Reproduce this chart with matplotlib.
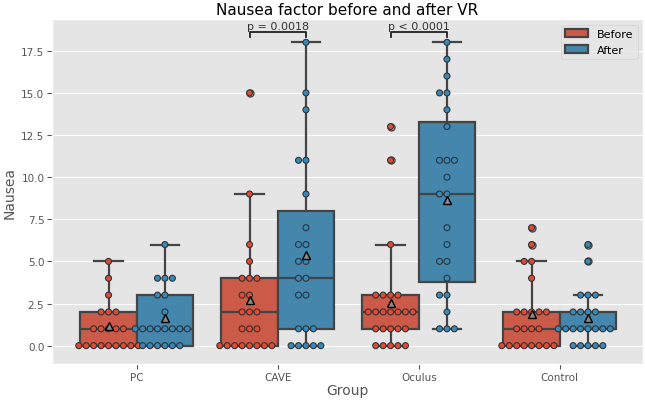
import matplotlib
matplotlib.use('Agg')
import matplotlib.pyplot as plt
import seaborn as sns
import pandas as pd

groups = ['PC', 'CAVE', 'Oculus', 'Control']
times = ['Before', 'After']

pc_before = [0, 0, 0, 0, 0, 0, 0, 0, 0, 1, 1, 1, 1, 1, 2, 2, 2, 3, 4, 5]
pc_after = [0, 0, 0, 0, 0, 0, 1, 1, 1, 1, 1, 1, 1, 1, 2, 3, 3, 4, 4, 4, 6]
cave_before = [0, 0, 0, 0, 0, 0, 0, 0, 1, 1, 1, 2, 2, 2, 3, 3, 4, 4, 4, 5, 6, 9, 15]
cave_after = [0, 0, 0, 0, 0, 1, 1, 1, 3, 3, 4, 4, 5, 5, 6, 6, 7, 9, 11, 11, 14, 15, 18]
oculus_before = [0, 0, 0, 0, 0, 1, 1, 1, 1, 1, 2, 2, 2, 2, 2, 2, 2, 3, 3, 3, 3, 6, 11, 13]
oculus_after = [1, 1, 1, 2, 3, 3, 4, 5, 5, 6, 7, 9, 9, 10, 11, 11, 11, 13, 14, 15, 15, 16, 17, 18]
control_before = [0, 0, 0, 0, 0, 0, 0, 0, 1, 1, 1, 1, 2, 2, 2, 2, 2, 4, 5, 5, 6, 7]
control_after = [0, 0, 0, 0, 0, 1, 1, 1, 1, 1, 1, 1, 1, 2, 2, 2, 2, 3, 3, 3, 5, 6]

p_labels = ['p = 0.0018', 'p < 0.0001']
p_groups = ['CAVE', 'Oculus']

series = {
    ('PC', 'Before'): pc_before, ('PC', 'After'): pc_after,
    ('CAVE', 'Before'): cave_before, ('CAVE', 'After'): cave_after,
    ('Oculus', 'Before'): oculus_before, ('Oculus', 'After'): oculus_after,
    ('Control', 'Before'): control_before, ('Control', 'After'): control_after,
}
rows = []
for (g, t), vals in series.items():
    for v in vals:
        rows.append({'Group': g, 'Time': t, 'Nausea': v})
df = pd.DataFrame(rows)

plt.style.use('ggplot')
fig = plt.figure(figsize=(6.45, 4.02), dpi=100)
ax = fig.add_axes([0.0806, 0.092, 0.9164, 0.858])

palette = {'Before': '#E24A33', 'After': '#348ABD'}

sns.boxplot(data=df, x='Group', y='Nausea', hue='Time', order=groups,
            hue_order=times, palette=palette, showmeans=True,
            meanprops=dict(marker='^', markerfacecolor='#888888',
                           markeredgecolor='black', markersize=6),
            linewidth=1.6, linecolor='#444444', fliersize=5, ax=ax)
sns.swarmplot(data=df, x='Group', y='Nausea', hue='Time', order=groups,
              hue_order=times, palette=palette, dodge=True, size=4.3,
              linewidth=0.8, edgecolor='#333333', legend=False, ax=ax)

for ln in ax.lines:
    if ln.get_marker() == '^':
        ln.set_zorder(10)
        ln.set_markerfacecolor('#8a8a8a')
        ln.set_markeredgecolor('black')

for lab, g in zip(p_labels, p_groups):
    i = groups.index(g)
    x1, x2 = i - 0.2, i + 0.2
    ax.plot([x1, x1, x2, x2], [18.33, 18.61, 18.61, 18.33], color='#222222', lw=1.3)
    ax.text(i, 18.7, lab, ha='center', va='bottom', fontsize=8, color='#333333')

ax.set_ylim(-1.09, 19.38)
ax.set_title('Nausea factor before and after VR', fontsize=11, color='black', pad=4)
ax.set_xlabel('Group', fontsize=10, labelpad=1)
ax.set_ylabel('Nausea', fontsize=10, labelpad=3)
ax.tick_params(labelsize=7.5, pad=2)

handles, labels = ax.get_legend_handles_labels()
ax.legend(handles[:2], labels[:2], loc='upper right', fontsize=8)

fig.savefig('out.png', dpi=100)
